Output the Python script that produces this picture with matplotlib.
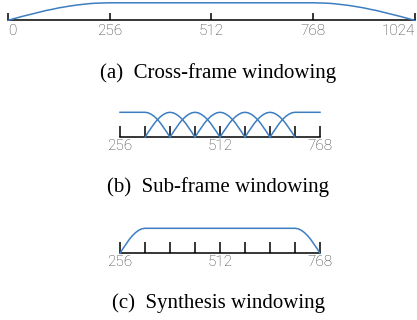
import matplotlib
matplotlib.use("Agg")
import matplotlib.pyplot as plt

# ---------------- data ----------------
# (a) cross-frame window
cross_ticks = [0, 256, 512, 768, 1024]
cross_x = [0, 16, 32, 48, 64, 80, 96, 112, 128, 144, 160, 176, 192, 208, 224, 240, 256,
           768, 784, 800, 816, 832, 848, 864, 880, 896, 912, 928, 944, 960, 976, 992, 1008, 1024]
cross_y = [0.0, 0.10, 0.20, 0.29, 0.38, 0.47, 0.56, 0.63, 0.71, 0.77, 0.83, 0.88, 0.92, 0.96, 0.98, 0.99, 1.0,
           1.0, 0.99, 0.98, 0.96, 0.92, 0.88, 0.83, 0.77, 0.71, 0.63, 0.56, 0.47, 0.38, 0.29, 0.20, 0.10, 0.0]

# (b) sub-frame windows
sub_ticks = [256, 320, 384, 448, 512, 576, 640, 704, 768]
sub_labels = ["256", "", "", "", "512", "", "", "", "768"]
sub_starts = [320, 384, 448, 512, 576]
sub_offsets = [0, 8, 16, 24, 32, 40, 48, 56, 64, 72, 80, 88, 96, 104, 112, 120, 128]
sub_values = [0.0, 0.20, 0.38, 0.56, 0.71, 0.83, 0.92, 0.98, 1.0, 0.98, 0.92, 0.83, 0.71, 0.56, 0.38, 0.20, 0.0]
sub_first_x = [256, 320, 328, 336, 344, 352, 360, 368, 376, 384]
sub_first_y = [1.0, 1.0, 0.98, 0.92, 0.83, 0.71, 0.56, 0.38, 0.20, 0.0]
sub_last_x = [640, 648, 656, 664, 672, 680, 688, 696, 704, 768]
sub_last_y = [0.0, 0.20, 0.38, 0.56, 0.71, 0.83, 0.92, 0.98, 1.0, 1.0]

# (c) synthesis window
synth_x = [256, 264, 272, 280, 288, 296, 304, 312, 320, 704, 712, 720, 728, 736, 744, 752, 760, 768]
synth_y = [0.0, 0.20, 0.38, 0.56, 0.71, 0.83, 0.92, 0.98, 1.0, 1.0, 0.98, 0.92, 0.83, 0.71, 0.56, 0.38, 0.20, 0.0]

captions = ["(a)  Cross-frame windowing", "(b)  Sub-frame windowing", "(c)  Synthesis windowing"]

# ---------------- style ----------------
W, H = 417, 320
BLUE = "#3d7ec1"
LABEL_COLOR = "#3c3c3c"
fig = plt.figure(figsize=(W / 100, H / 100), dpi=100)


def ax_at(x0, x1, y_axis, y_top):
    return fig.add_axes([x0 / W, 1 - y_axis / H, (x1 - x0) / W, (y_axis - y_top) / H])


def style(ax, xlim, ticks, labels, ticklen, pad):
    ax.set_xlim(*xlim)
    ax.set_ylim(0, 1)
    for s in ("top", "left", "right"):
        ax.spines[s].set_visible(False)
    ax.spines["bottom"].set_linewidth(1.1)
    ax.spines["bottom"].set_color("black")
    ax.set_yticks([])
    ax.set_xticks(ticks)
    ax.set_xticklabels(labels, fontfamily="Roboto", fontweight="light",
                       fontsize=11, color=LABEL_COLOR)
    ax.tick_params(axis="x", direction="in", length=ticklen, width=1.1,
                   color="black", pad=pad)
    ax.patch.set_visible(False)


# (a)
axa = ax_at(8, 414.5, 20.3, 2.8)
style(axa, (0, 1024), cross_ticks, [str(t) for t in cross_ticks], 5.0, 3.0)
tl = axa.get_xticklabels()
tl[0].set_ha("left")
tl[-1].set_ha("right")
axa.plot(cross_x, cross_y, color=BLUE, lw=1.1, clip_on=False, zorder=3)

# (b)
axb = ax_at(120, 320, 137.3, 112.3)
style(axb, (256, 768), sub_ticks, sub_labels, 7.6, 1.3)
axb.plot(sub_first_x, sub_first_y, color=BLUE, lw=1.1, clip_on=False, zorder=3)
for s in sub_starts:
    axb.plot([s + o for o in sub_offsets], sub_values, color=BLUE, lw=1.1, clip_on=False, zorder=3)
axb.plot(sub_last_x, sub_last_y, color=BLUE, lw=1.1, clip_on=False, zorder=3)

# (c)
axc = ax_at(120, 320, 253.3, 228.3)
style(axc, (256, 768), sub_ticks, sub_labels, 8.2, 1.3)
axc.plot(synth_x, synth_y, color=BLUE, lw=1.1, clip_on=False, zorder=3)

# captions
for cap, yc in zip(captions, [73, 187, 303]):
    fig.text(218.5 / W, 1 - yc / H, cap, ha="center", va="center",
             fontfamily="Liberation Serif", fontsize=15, color="black")

fig.savefig("out.png", dpi=100)
